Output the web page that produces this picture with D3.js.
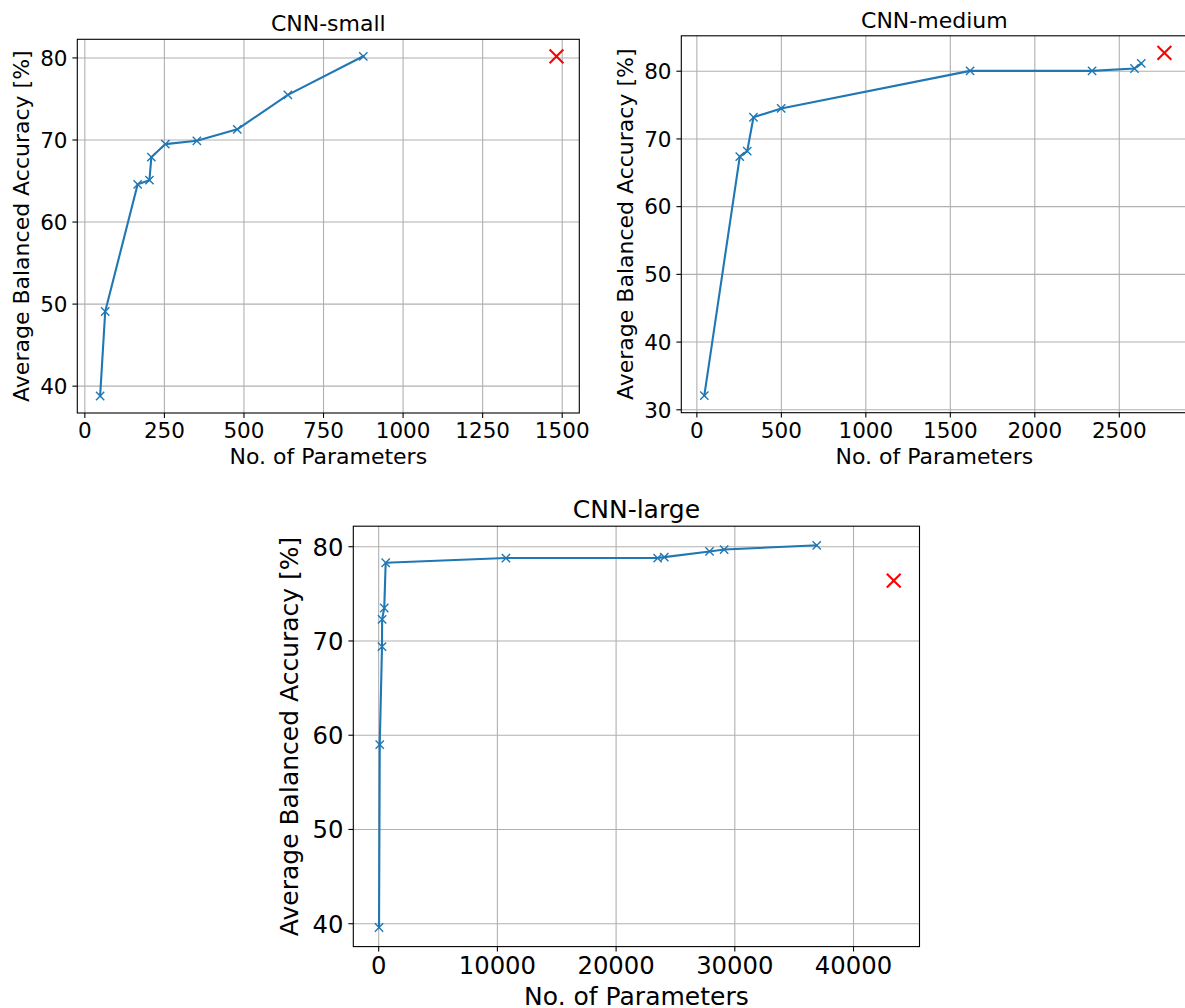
<!DOCTYPE html>
<html>
<head>
<meta charset="utf-8">
<script src="https://cdn.jsdelivr.net/npm/d3@7"></script>
<style>
  html, body { margin: 0; padding: 0; background: #fff; }
  svg { display: block; font-family: "DejaVu Sans", sans-serif; }
</style>
</head>
<body>
<svg id="chart" width="1185" height="1008"></svg>
<script>
// ---------- data ----------
const smallParams = [48, 64, 166, 203, 209, 253, 352, 479, 638, 875];
const smallAcc    = [38.8, 49.1, 64.6, 65.1, 67.9, 69.5, 69.9, 71.3, 75.5, 80.2];
const smallRef    = [1482, 80.2];

const mediumParams = [44, 254, 298, 335, 499, 1617, 2339, 2590, 2630];
const mediumAcc    = [32.1, 67.4, 68.2, 73.2, 74.5, 80.05, 80.05, 80.4, 81.15];
const mediumRef    = [2767, 82.7];

const largeParams = [30, 90, 280, 290, 470, 590, 10720, 23500, 24060, 27870, 29100, 36900];
const largeAcc    = [39.6, 59.0, 69.4, 72.3, 73.5, 78.3, 78.8, 78.8, 78.9, 79.5, 79.7, 80.15];
const largeRef    = [43390, 76.4];

const titles = ["CNN-small", "CNN-medium", "CNN-large"];
const xLabel = "No. of Parameters";
const yLabel = "Average Balanced Accuracy [%]";

const smallXTicks  = [0, 250, 500, 750, 1000, 1250, 1500];
const smallYTicks  = [40, 50, 60, 70, 80];
const mediumXTicks = [0, 500, 1000, 1500, 2000, 2500];
const mediumYTicks = [30, 40, 50, 60, 70, 80];
const largeXTicks  = [0, 10000, 20000, 30000, 40000];
const largeYTicks  = [40, 50, 60, 70, 80];

// ---------- layout ----------
const panels = [
  { title: titles[0], xs: smallParams, ys: smallAcc, ref: smallRef,
    xt: smallXTicks, yt: smallYTicks,
    box: { l: 77.3, r: 579.3, t: 39.3, b: 413 }, fs: 21.5, lfs: 22, ylx: 28.5, xlb: 463.5 },
  { title: titles[1], xs: mediumParams, ys: mediumAcc, ref: mediumRef,
    xt: mediumXTicks, yt: mediumYTicks,
    box: { l: 681.3, r: 1187.4, t: 35.8, b: 412.7 }, fs: 21.5, lfs: 22, ylx: 632.5, xlb: 463.5 },
  { title: titles[2], xs: largeParams, ys: largeAcc, ref: largeRef,
    xt: largeXTicks, yt: largeYTicks,
    box: { l: 353.3, r: 919.5, t: 526.2, b: 946.6 }, fs: 24.3, lfs: 25, ylx: 298, xlb: 1004.5 }
];

const svg = d3.select("#chart");
const blue = "#1f77b4";
const gridColor = "#b0b0b0";
const tickLen = 4.9, tickPad = 4.9;

function padded(vals) {
  const [mn, mx] = d3.extent(vals);
  const m = (mx - mn) * 0.05;
  return [mn - m, mx + m];
}

function xMarker(g, cx, cy, half, color, w) {
  g.append("path")
    .attr("d", `M${cx - half},${cy - half}L${cx + half},${cy + half}M${cx - half},${cy + half}L${cx + half},${cy - half}`)
    .attr("stroke", color).attr("stroke-width", w).attr("fill", "none");
}

panels.forEach(p => {
  const { l, r, t, b } = p.box;
  const x = d3.scaleLinear().domain(padded(p.xs.concat([p.ref[0]]))).range([l, r]);
  const y = d3.scaleLinear().domain(padded(p.ys.concat([p.ref[1]]))).range([b, t]);
  const g = svg.append("g");
  const cap = 0.729;

  // grid
  g.selectAll(null).data(p.xt).enter().append("line")
    .attr("x1", d => x(d)).attr("x2", d => x(d)).attr("y1", t).attr("y2", b)
    .attr("stroke", gridColor).attr("stroke-width", 1.1);
  g.selectAll(null).data(p.yt).enter().append("line")
    .attr("x1", l).attr("x2", r).attr("y1", d => y(d)).attr("y2", d => y(d))
    .attr("stroke", gridColor).attr("stroke-width", 1.1);

  // line + markers
  const pts = p.xs.map((v, i) => [v, p.ys[i]]);
  g.append("path")
    .attr("d", d3.line().x(d => x(d[0])).y(d => y(d[1]))(pts))
    .attr("fill", "none").attr("stroke", blue).attr("stroke-width", 2.1)
    .attr("stroke-linejoin", "round").attr("stroke-linecap", "square");
  pts.forEach(d => xMarker(g, x(d[0]), y(d[1]), 4.15, blue, 1.4));
  xMarker(g, x(p.ref[0]), y(p.ref[1]), 6.9, "red", 2.1);

  // frame
  g.append("rect").attr("x", l).attr("y", t).attr("width", r - l).attr("height", b - t)
    .attr("fill", "none").attr("stroke", "#000").attr("stroke-width", 1.1);

  // x ticks
  g.selectAll(null).data(p.xt).enter().append("line")
    .attr("x1", d => x(d)).attr("x2", d => x(d)).attr("y1", b).attr("y2", b + tickLen)
    .attr("stroke", "#000").attr("stroke-width", 1.1);
  g.selectAll(null).data(p.xt).enter().append("text")
    .attr("x", d => x(d)).attr("y", b + tickLen + tickPad + cap * p.fs)
    .attr("text-anchor", "middle").attr("font-size", p.fs).attr("fill", "#000")
    .text(d => d);

  // y ticks
  g.selectAll(null).data(p.yt).enter().append("line")
    .attr("x1", l - tickLen).attr("x2", l).attr("y1", d => y(d)).attr("y2", d => y(d))
    .attr("stroke", "#000").attr("stroke-width", 1.1);
  g.selectAll(null).data(p.yt).enter().append("text")
    .attr("x", l - tickLen - tickPad).attr("y", d => y(d) + cap * p.fs / 2)
    .attr("text-anchor", "end").attr("font-size", p.fs).attr("fill", "#000")
    .text(d => d);

  // title
  g.append("text").attr("x", (l + r) / 2).attr("y", t - 8.3)
    .attr("text-anchor", "middle").attr("font-size", p.lfs).attr("fill", "#000")
    .text(p.title);

  // axis labels
  g.append("text").attr("x", (l + r) / 2).attr("y", p.xlb)
    .attr("text-anchor", "middle").attr("font-size", p.lfs).attr("fill", "#000")
    .text(xLabel);
  g.append("text")
    .attr("transform", `translate(${p.ylx},${(t + b) / 2}) rotate(-90)`)
    .attr("text-anchor", "middle").attr("font-size", p.lfs).attr("fill", "#000")
    .text(yLabel);
});
</script>
</body>
</html>
